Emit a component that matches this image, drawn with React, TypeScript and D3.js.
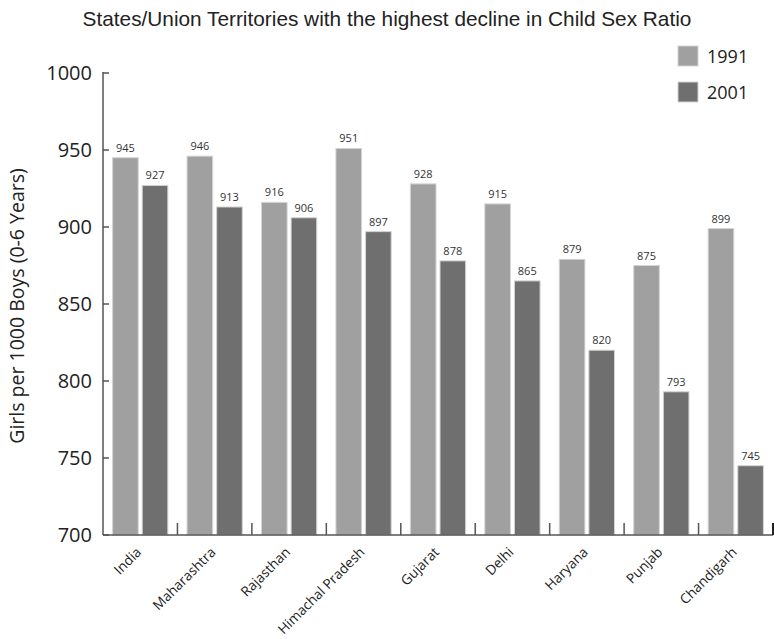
import React from "react";
import * as d3 from "d3";

const categories = ["India", "Maharashtra", "Rajasthan", "Himachal Pradesh", "Gujarat", "Delhi", "Haryana", "Punjab", "Chandigarh"];
const values1991 = [945, 946, 916, 951, 928, 915, 879, 875, 899];
const values2001 = [927, 913, 906, 897, 878, 865, 820, 793, 745];
const seriesNames = ["1991", "2001"];
const yTicks = [700, 750, 800, 850, 900, 950, 1000];

const W = 774, H = 639;
const left = 103, right = 773, top = 73, bottom = 535;
const colors = ["#a0a0a0", "#6f6f6f"];
const font = "'Open Sans', sans-serif";

export default function App() {
  const x = d3.scaleBand<string>().domain(categories).range([left, right]).paddingInner(0).paddingOuter(0);
  const y = d3.scaleLinear().domain([700, 1000]).range([bottom, top]);
  const bw = x.bandwidth();
  const pad = 9.6, gap = 4;
  const barW = (bw - 2 * pad - gap) / 2;
  const series = [values1991, values2001];
  return (
    <svg width={W} height={H} style={{ position: "absolute", left: 0, top: 0, background: "#fff" }}>
      <text x={387} y={26} textAnchor="middle" fontFamily="'Liberation Sans', Arial, sans-serif" fontSize={20.8} fill="#222">
        States/Union Territories with the highest decline in Child Sex Ratio
      </text>
      {/* bars */}
      {categories.map((c, i) => (
        <g key={c}>
          {series.map((s, k) => {
            const bx = (x(c) as number) + pad + k * (barW + gap);
            const by = y(s[i]);
            return (
              <g key={k}>
                <rect x={bx} y={by} width={barW} height={bottom - by} fill={colors[k]} stroke="#d4d4d4" strokeWidth={1} />
                <text x={bx + barW / 2} y={by - 6} textAnchor="middle" fontFamily={font} fontSize={11} fill="#333">{s[i]}</text>
              </g>
            );
          })}
        </g>
      ))}
      {/* y axis */}
      <line x1={left} x2={left} y1={top - 1} y2={bottom} stroke="#555" strokeWidth={1.5} />
      {yTicks.map((t) => (
        <g key={t}>
          <line x1={left} x2={left + 6} y1={y(t)} y2={y(t)} stroke="#555" strokeWidth={1.5} />
          <text x={92} y={y(t) + 7} textAnchor="end" fontFamily={font} fontSize={20} fill="#222">{t}</text>
        </g>
      ))}
      {/* x axis */}
      <line x1={left} x2={right} y1={bottom} y2={bottom} stroke="#555" strokeWidth={1.5} />
      {categories.map((c, i) => (
        <line key={c} x1={(x(c) as number) + bw} x2={(x(c) as number) + bw} y1={bottom} y2={bottom - 12} stroke={i === categories.length - 1 ? "#222" : "#555"} strokeWidth={i === categories.length - 1 ? 2 : 1.5} />
      ))}
      {categories.map((c) => {
        const cx = (x(c) as number) + bw / 2 + 2;
        const cy = 553;
        return (
          <text key={c} x={cx} y={cy} transform={`rotate(-45 ${cx} ${cy})`} textAnchor="end" fontFamily={font} fontSize={13.7} fill="#222">{c}</text>
        );
      })}
      {/* y label */}
      <text transform={`translate(24 306) rotate(-90)`} textAnchor="middle" fontFamily={font} fontSize={19.5} fill="#222">
        Girls per 1000 Boys (0-6 Years)
      </text>
      {/* legend */}
      {seriesNames.map((n, k) => (
        <g key={n}>
          <rect x={678} y={46 + k * 36} width={20} height={20} fill={colors[k]} stroke="#d4d4d4" strokeWidth={1} />
          <text x={707} y={63 + k * 36} fontFamily={font} fontSize={18} fill="#222">{n}</text>
        </g>
      ))}
    </svg>
  );
}
